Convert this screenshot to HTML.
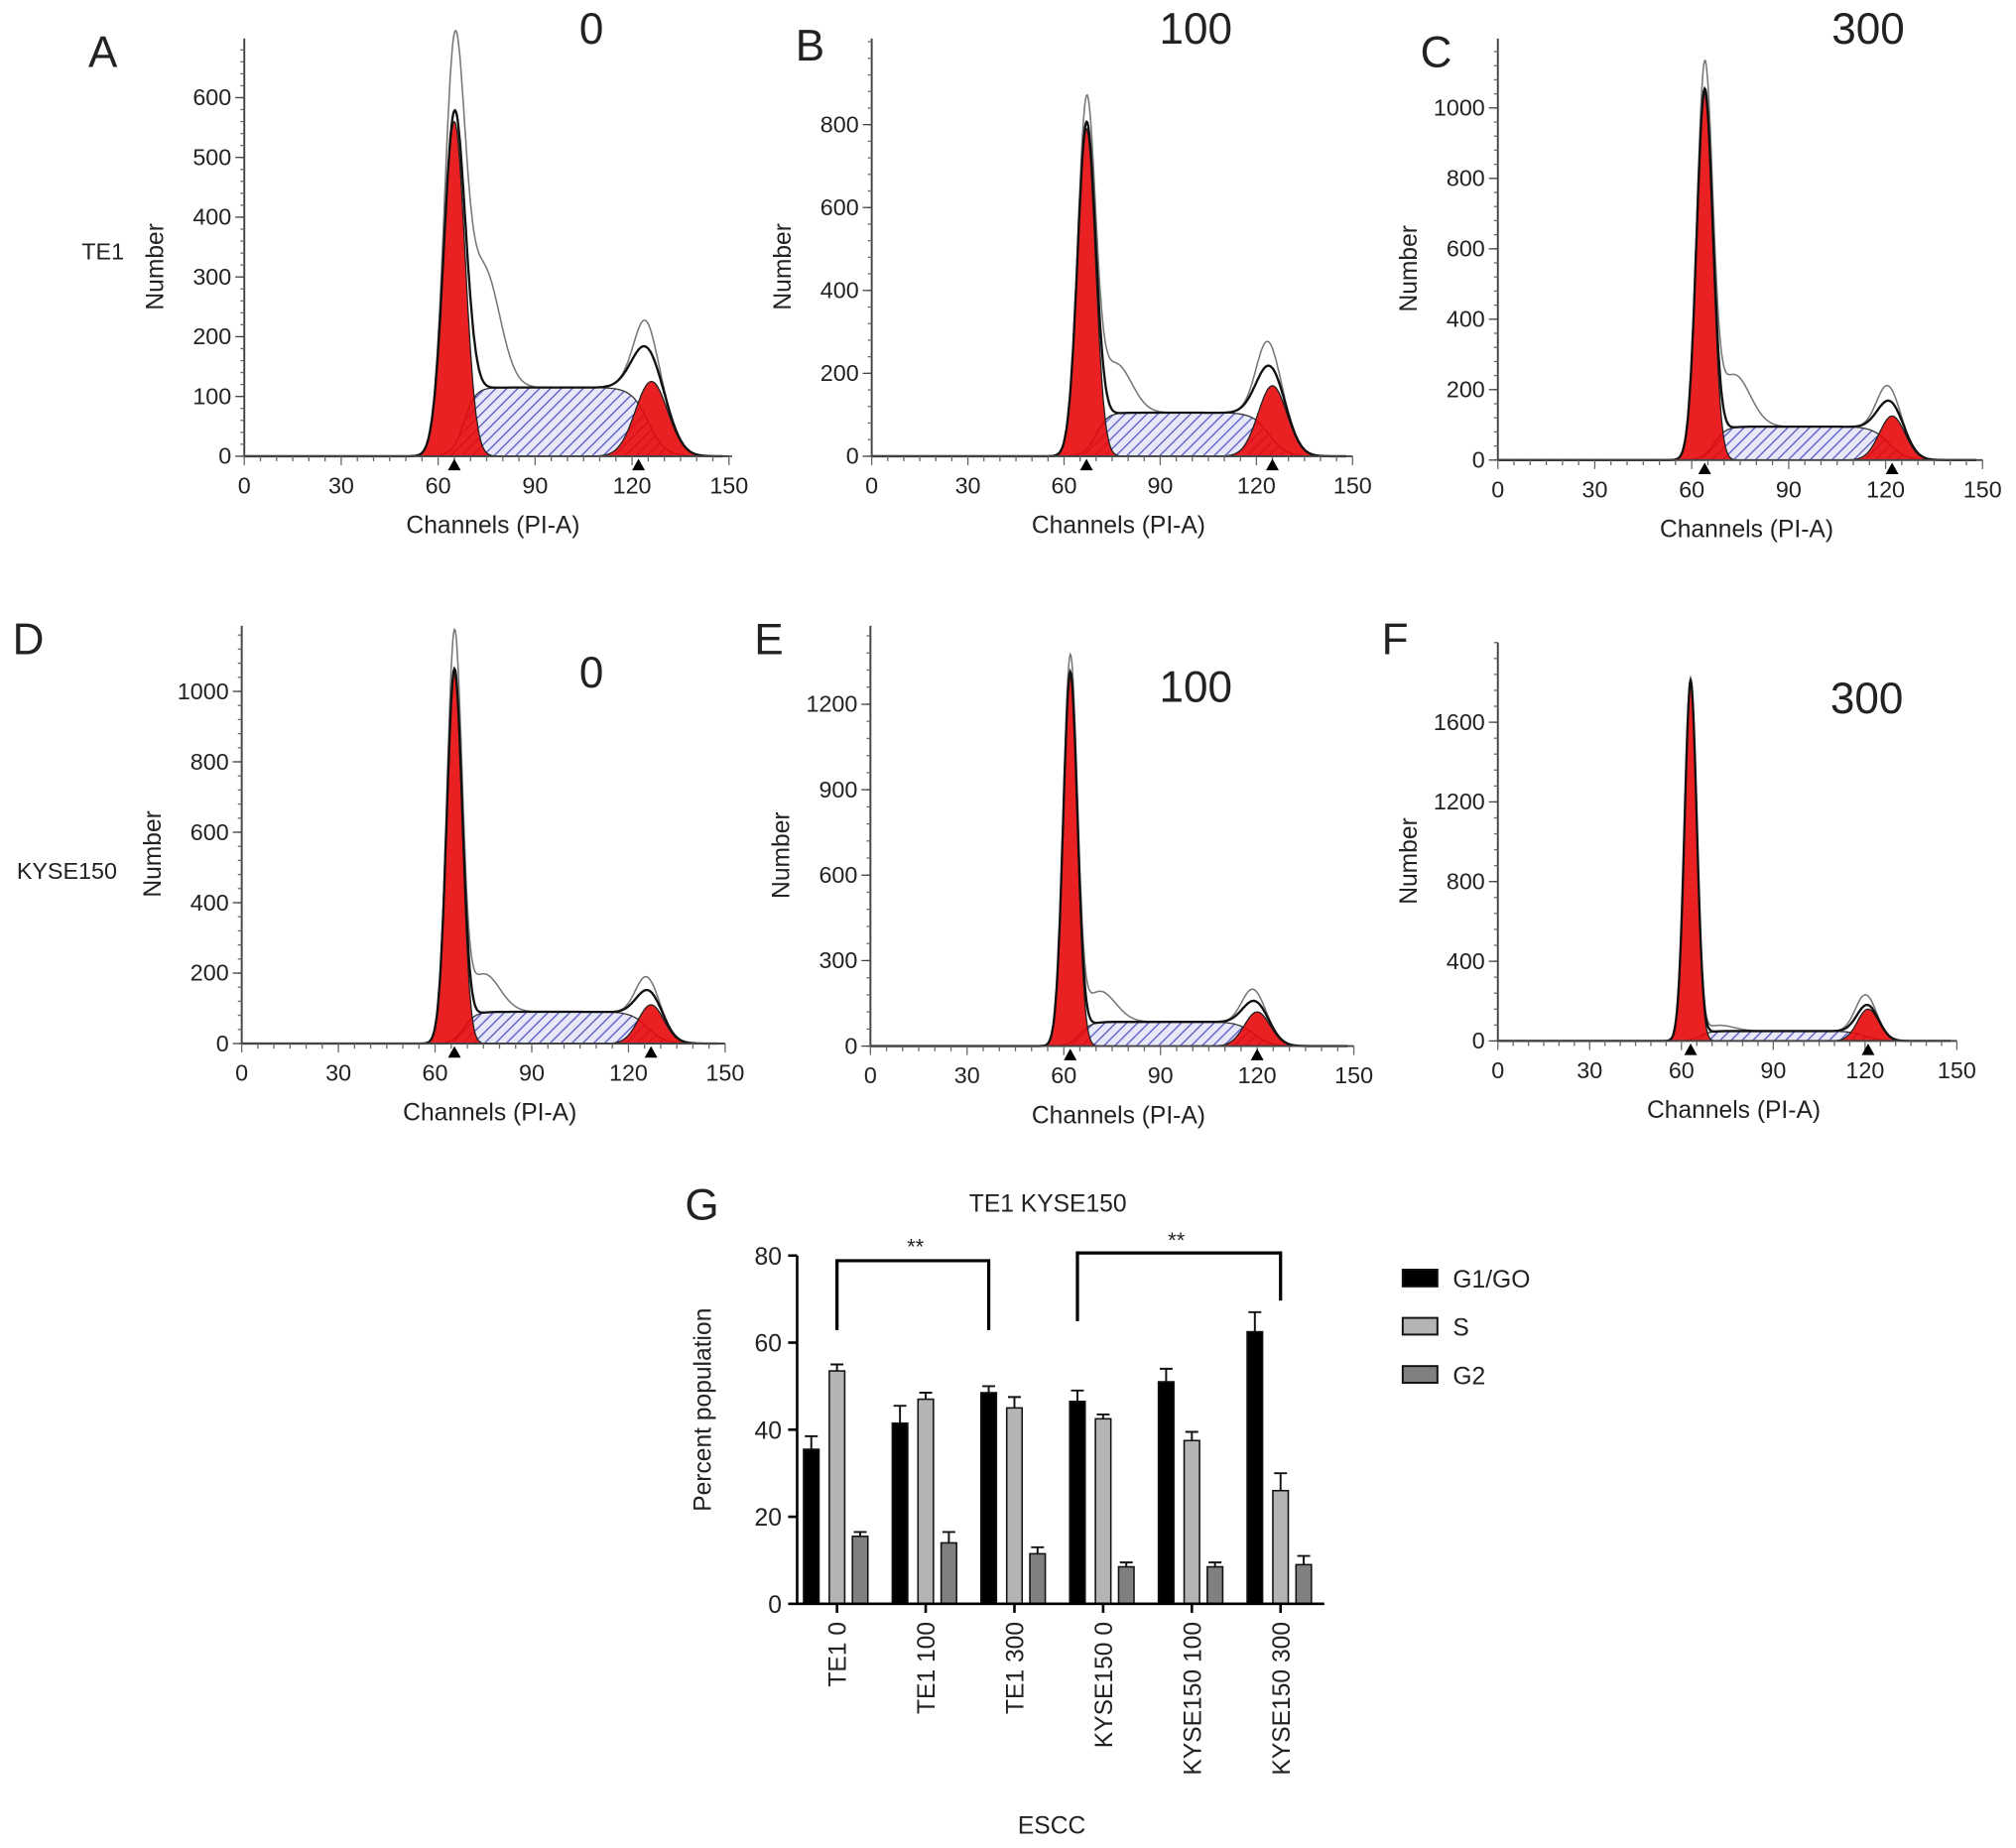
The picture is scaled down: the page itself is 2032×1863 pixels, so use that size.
<!DOCTYPE html>
<html><head><meta charset="utf-8"><style>
html,body{margin:0;padding:0;background:#fff}
svg{display:block}
text{font-family:"Liberation Sans",Arial,sans-serif;fill:#222}
</style></head><body>
<svg id="fig" width="2032" height="1863" viewBox="0 0 1568 1438" preserveAspectRatio="none" xmlns="http://www.w3.org/2000/svg">
<defs>
<pattern id="hatch" width="6" height="6" patternUnits="userSpaceOnUse" patternTransform="rotate(45)">
<rect width="6" height="6" fill="#e8e8f8"/><line x1="0" y1="0" x2="0" y2="6" stroke="#5558c8" stroke-width="2"/>
</pattern>
</defs>
</svg>
<script>
// ---------- histogram panel data ----------
const panelNames = ['A','B','C','D','E','F'];
const panelTitles = ['0','100','300','0','100','300'];
const yTickSets = [[0,100,200,300,400,500,600],[0,200,400,600,800],[0,200,400,600,800,1000],[0,200,400,600,800,1000],[0,300,600,900,1200],[0,400,800,1200,1600]];
const xTicks = [0,30,60,90,120,150];
const g1Pos = [65,67,64,66,62,63];
const g1Height = [560,790,1040,1050,1300,1800];
const g1Width = [3.3,2.8,2.5,2.4,2.2,2.0];
const sLevel = [115,105,95,90,85,50];
const g2Pos = [126,125,122,127,120,121];
const g2Height = [125,170,125,110,120,160];
const g2Width = [5.0,4.5,4.0,4.0,4.0,3.5];
const rawPeak = [650,830,1090,1140,1340,1810];
const shoulder = [200,120,150,110,110,30];
const markerPos = [[65,122],[67,125],[64,122],[66,127],[62,120],[63,121]];
// layout (display coords)
const L = [
 {ax:190,x1:567,y0:355,top:30,ymaxV:600,ymaxY:76,lx:80,ly:40,tx:460,ty:22},
 {ax:678,x1:1052,y0:355,top:30,ymaxV:800,ymaxY:97,lx:630,ly:35,tx:930,ty:22},
 {ax:1165,x1:1542,y0:358,top:30,ymaxV:1000,ymaxY:84,lx:1117,ly:40,tx:1453,ty:22},
 {ax:188,x1:564,y0:812,top:487,ymaxV:1000,ymaxY:538,lx:22,ly:497,tx:460,ty:523},
 {ax:677,x1:1053,y0:814,top:487,ymaxV:1200,ymaxY:548,lx:598,ly:497,tx:930,ty:534},
 {ax:1165,x1:1522,y0:810,top:500,ymaxV:1600,ymaxY:562,lx:1085,ly:497,tx:1452,ty:543}];
const svg=document.getElementById('fig');
const NS='http://www.w3.org/2000/svg';
function mk(tag,attrs,parent){const e=document.createElementNS(NS,tag);for(const k in attrs)e.setAttribute(k,attrs[k]);(parent||svg).appendChild(e);return e;}
function txt(s,attrs,parent){const e=mk('text',attrs,parent);e.textContent=s;return e;}
const gauss=(x,m,h,s)=>h*Math.exp(-0.5*((x-m)/s)**2);
const sig=z=>1/(1+Math.exp(-z));
for(let p=0;p<6;p++){
 const l=L[p];
 const g=mk('g',{});
 
 
 const X=v=>l.ax+(l.x1-l.ax)*v/150;
 const Y=v=>l.y0-(l.y0-l.ymaxY)*v/l.ymaxV;
 const G1=x=>gauss(x,g1Pos[p],g1Height[p],g1Width[p]);
 const G2=x=>gauss(x,g2Pos[p],g2Height[p],g2Width[p]);
 const S=x=>sLevel[p]*sig((x-g1Pos[p]-3)/1.8)*sig((g2Pos[p]-1-x)/2.6);
 const path=(f,a,b,close)=>{let d='';for(let x=a;x<=b;x+=0.25){d+=(d?'L':'M')+X(x).toFixed(1)+','+Y(f(x)).toFixed(1);}if(close)d+='L'+X(b)+','+Y(0)+'L'+X(a)+','+Y(0)+'Z';return d;};
 const s=mk('path',{d:path(S,g1Pos[p]-8,g2Pos[p]+12,true),fill:'url(#hatch)',stroke:'#333','stroke-width':1},g);
 
 
 const r1=mk('path',{d:path(G1,g1Pos[p]-5*g1Width[p],g1Pos[p]+5*g1Width[p],true),fill:'#e8090b','fill-opacity':0.9,stroke:'#222','stroke-width':1},g);
 
 
 const r2=mk('path',{d:path(G2,g2Pos[p]-5*g2Width[p],g2Pos[p]+5*g2Width[p],true),fill:'#e8090b','fill-opacity':0.9,stroke:'#222','stroke-width':1},g);
 
 
 const env=x=>G1(x)+S(x)+G2(x);
 const raw=x=>env(x)+gauss(x,g1Pos[p],rawPeak[p]-g1Height[p],g1Width[p]*0.8)+gauss(x,g1Pos[p]+9,shoulder[p],5)+gauss(x,g2Pos[p]-2,g2Height[p]*0.35,3);
 const rl=mk('path',{d:path(raw,g1Pos[p]-12,148),fill:'none',stroke:'#777','stroke-width':1.2},g);
 
 
 const el=mk('path',{d:path(env,0,148),fill:'none',stroke:'#111','stroke-width':1.8},g);
 
 
 // axes
 mk('line',{x1:l.ax,y1:l.top,x2:l.ax,y2:l.y0,stroke:'#444','stroke-width':1.5},g);
 mk('line',{x1:l.ax,y1:l.y0,x2:l.x1,y2:l.y0,stroke:'#444','stroke-width':1.5},g);
 for(let yy=l.y0;yy>l.top;yy-=(l.y0-l.ymaxY)/ (l.ymaxV/ (yTickSets[p][1]/5)))mk('line',{x1:l.ax-3,y1:yy,x2:l.ax,y2:yy,stroke:'#666','stroke-width':1},g);
 for(let v=0;v<=150;v+=5)mk('line',{x1:X(v),y1:l.y0,x2:X(v),y2:l.y0+(v%30==0?7:4),stroke:'#666','stroke-width':1},g);
 yTickSets[p].forEach(v=>{mk('line',{x1:l.ax-7,y1:Y(v),x2:l.ax,y2:Y(v),stroke:'#444'},g);const t=txt(String(v),{x:l.ax-10,y:Y(v)+6,'text-anchor':'end','font-size':18},g);});
 xTicks.forEach(v=>{const t=txt(String(v),{x:X(v),y:l.y0+29,'text-anchor':'middle','font-size':18},g);});
 markerPos[p].forEach(v=>{mk('path',{d:`M${X(v)-5},${l.y0+11}L${X(v)+5},${l.y0+11}L${X(v)},${l.y0+2}Z`,fill:'#000'},g);});
 const xt=txt('Channels (PI-A)',{x:(l.ax+l.x1)/2+5,y:l.y0+60,'text-anchor':'middle','font-size':19},g);
 
 const yc=(l.top+l.y0)/2+15;
 const yt=txt('Number',{x:0,y:0,'text-anchor':'middle','font-size':19,transform:`translate(${l.ax-63},${yc}) rotate(-90)`},g);
 
 const pl=txt(panelNames[p],{x:l.lx,y:l.ly+12,'text-anchor':'middle','font-size':34},g);
 
 const pt=txt(panelTitles[p],{x:l.tx,y:l.ty+12,'text-anchor':'middle','font-size':34},g);
 
}
const te=txt('TE1',{x:80,y:202,'text-anchor':'middle','font-size':18});

const ky=txt('KYSE150',{x:52,y:684,'text-anchor':'middle','font-size':18});


// ---------- bar chart G ----------
const categories = ['TE1 0','TE1 100','TE1 300','KYSE150 0','KYSE150 100','KYSE150 300'];
const g1Values = [35.5,41.5,48.5,46.5,51,62.5];
const g1Err = [3,4,1.5,2.5,3,4.5];
const sValues = [53.5,47,45,42.5,37.5,26];
const sErr = [1.5,1.5,2.5,1,2,4];
const g2Values = [15.5,14,11.5,8.5,8.5,9];
const g2Err = [1,2.5,1.5,1,1,2];
const barTicks = [0,20,40,60,80];
const seriesNames = ['G1/GO','S','G2'];
const B={ax:620,x1:1030,y0:1248,y80:977,c0:651,step:69};
const BY=v=>B.y0-(B.y0-B.y80)*v/80;
const BX=i=>B.c0+B.step*i;
const gb=mk('g',{});


const series=[[g1Values,g1Err,'#000',-20],[sValues,sErr,'#b4b4b4',0],[g2Values,g2Err,'#808080',18]];
series.forEach((s,si)=>{
 s[0].forEach((v,i)=>{
  const cx=BX(i)+s[3];
  const r=mk('rect',{x:cx-6,y:BY(v),width:12,height:BY(0)-BY(v),fill:s[2],stroke:'#111','stroke-width':1.2},gb);
  
  
  const e=mk('path',{d:`M${cx},${BY(v)}V${BY(v+s[1][i])}M${cx-5},${BY(v+s[1][i])}H${cx+5}`,stroke:'#111','stroke-width':1.5,fill:'none'},gb);
  
  
 });
});
mk('line',{x1:B.ax,y1:BY(80),x2:B.ax,y2:B.y0,stroke:'#000','stroke-width':2},gb);
mk('line',{x1:B.ax,y1:B.y0,x2:B.x1,y2:B.y0,stroke:'#000','stroke-width':2},gb);
barTicks.forEach(v=>{mk('line',{x1:B.ax-7,y1:BY(v),x2:B.ax,y2:BY(v),stroke:'#000','stroke-width':2},gb);const t=txt(String(v),{x:B.ax-12,y:BY(v)+7,'text-anchor':'end','font-size':19},gb);});
categories.forEach((c,i)=>{mk('line',{x1:BX(i),y1:B.y0,x2:BX(i),y2:B.y0+7,stroke:'#000','stroke-width':2},gb);const t=txt(c,{x:0,y:0,'text-anchor':'end','font-size':19,transform:`translate(${BX(i)+7},${B.y0+14}) rotate(-90)`},gb);});
const yt2=txt('Percent population',{x:0,y:0,'text-anchor':'middle','font-size':19,transform:'translate(553,1097) rotate(-90)'},gb);

const xt2=txt('ESCC',{x:818,y:1427,'text-anchor':'middle','font-size':19},gb);

const tt=txt('TE1 KYSE150',{x:815,y:943,'text-anchor':'middle','font-size':19},gb);

const gl=txt('G',{x:546,y:949,'text-anchor':'middle','font-size':34},gb);

const br1=mk('path',{d:'M651,1035V981H769V1035',fill:'none',stroke:'#000','stroke-width':2.5},gb);

const br2=mk('path',{d:'M838,1028V975H996V1012',fill:'none',stroke:'#000','stroke-width':2.5},gb);

const s1=txt('**',{x:712,y:976,'text-anchor':'middle','font-size':17,fill:'#666'},gb);

const s2=txt('**',{x:915,y:971,'text-anchor':'middle','font-size':17,fill:'#666'},gb);

seriesNames.forEach((n,i)=>{
 const lg=mk('g',{},gb);
 
 
 mk('rect',{x:1091,y:988+i*37.5,width:27,height:13,fill:series[i][2],stroke:'#111','stroke-width':1.5},lg);
 txt(n,{x:1130,y:1002+i*37.5,'font-size':19},lg);
});
</script>
</body></html>
